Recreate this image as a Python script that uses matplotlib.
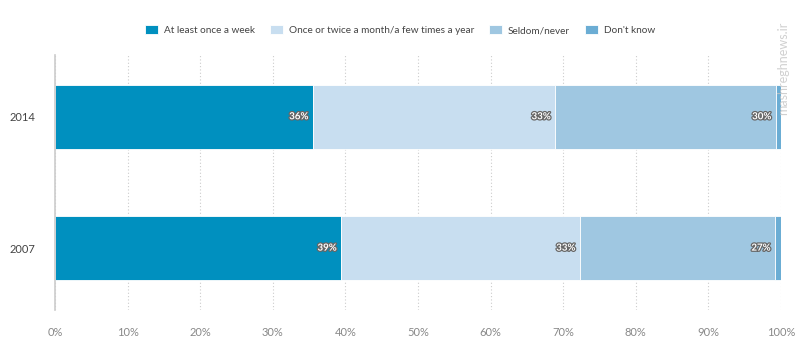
import matplotlib.pyplot as plt
import matplotlib.patheffects as pe

plt.rcParams['font.family'] = ['Lato', 'DejaVu Sans']

years = ['2007', '2014']
categories = ['At least once a week', 'Once or twice a month/a few times a year',
              'Seldom/never', "Don't know"]
weekly = [39.4, 35.5]
monthly = [32.9, 33.4]
seldom = [26.9, 30.4]
dont_know = [0.8, 0.7]
shown = [['39%', '33%', '27%'], ['36%', '33%', '30%']]
ticks = [0, 10, 20, 30, 40, 50, 60, 70, 80, 90, 100]

colors = ['#0090bf', '#c8def0', '#9fc7e1', '#6badd4']
series = [weekly, monthly, seldom, dont_know]

fig = plt.figure(figsize=(8, 3.62), dpi=100)
ax = fig.add_axes((0.069, 0.144, 0.907, 0.704))

ypos = list(range(len(years)))
left = [0.0] * len(years)
for vals, col, name in zip(series, colors, categories):
    ax.barh(ypos, vals, left=left, height=0.49, color=col, label=name,
            edgecolor='white', linewidth=0.6)
    left = [l + v for l, v in zip(left, vals)]

# value labels at the right end of the first three segments
for i in ypos:
    edge = 0.0
    for k, vals in enumerate(series[:3]):
        edge += vals[i]
        ax.text(edge - 0.6, i, shown[i][k], ha='right', va='center',
                fontsize=7, color='white', fontweight='bold',
                path_effects=[pe.withStroke(linewidth=1.8, foreground='#666666')])

ax.set_xlim(0, 100)
ax.set_ylim(-0.47, 1.47)
ax.set_yticks(ypos)
ax.set_yticklabels(years, fontsize=8, color='#444444')
ax.set_xticks(ticks)
ax.set_xticklabels([f'{t}%' for t in ticks], fontsize=8, color='#888888')
ax.tick_params(axis='both', length=0)
ax.tick_params(axis='x', pad=12)
ax.tick_params(axis='y', pad=14)

ax.grid(axis='x', linestyle=(0, (1, 2)), color='#cccccc', linewidth=0.8)
ax.set_axisbelow(True)
for s in ['top', 'right', 'bottom']:
    ax.spines[s].set_visible(False)
ax.spines['left'].set_color('#cccccc')
ax.spines['left'].set_linewidth(1.2)

fig.legend(loc='upper center', bbox_to_anchor=(0.5, 0.955), ncol=4,
           frameon=False, fontsize=7.2, handlelength=1.3, handleheight=0.95,
           columnspacing=1.5, handletextpad=0.6, labelcolor='#444444')

fig.text(0.979, 0.81, 'mashreghnews.ir', rotation=90, ha='center', va='center',
         fontsize=9, color='#c4c4c4', alpha=0.8)

fig.savefig('out.png', dpi=100)
